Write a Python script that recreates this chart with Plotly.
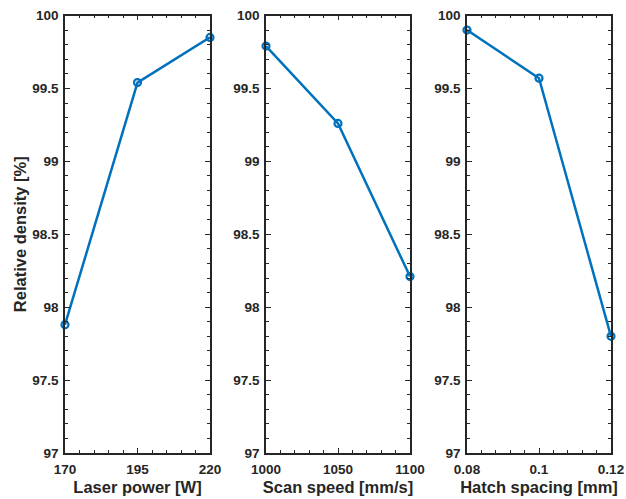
import plotly.graph_objects as go
from plotly.subplots import make_subplots

# Process parameters and measured relative density
laser_power = [170, 195, 220]
density_power = [97.88, 99.54, 99.85]

scan_speed = [1000, 1050, 1100]
density_speed = [99.79, 99.26, 98.21]

hatch_spacing = [0.08, 0.1, 0.12]
density_hatch = [99.90, 99.57, 97.80]

x_titles = ["Laser power [W]", "Scan speed [mm/s]", "Hatch spacing [mm]"]
x_ticks = [[170, 195, 220], [1000, 1050, 1100], [0.08, 0.1, 0.12]]
x_ticktext = [["170", "195", "220"], ["1000", "1050", "1100"], ["0.08", "0.1", "0.12"]]
x_minor = [5, 10, 0.004]
y_ticks = [97, 97.5, 98, 98.5, 99, 99.5, 100]
y_ticktext = ["97", "97.5", "98", "98.5", "99", "99.5", "100"]

W, H = 626, 499
LINE_COLOR = "#0072BD"
AX_COLOR = "#262626"
FONT = "Liberation Sans, Arial, sans-serif"

fig = make_subplots(rows=1, cols=3)

series = [(laser_power, density_power), (scan_speed, density_speed), (hatch_spacing, density_hatch)]
x_domains = [(65, 210), (266, 410), (467, 611)]
y_domain = [(H - 453) / H, (H - 15.5) / H]

for i, (xs, ys) in enumerate(series):
    fig.add_trace(
        go.Scatter(
            x=xs, y=ys, mode="lines+markers",
            line=dict(color=LINE_COLOR, width=2.5),
            marker=dict(symbol="circle-open", size=7, color=LINE_COLOR, line=dict(width=2.2)),
            showlegend=False, cliponaxis=False,
        ),
        row=1, col=i + 1,
    )
    xa = "xaxis" if i == 0 else f"xaxis{i + 1}"
    ya = "yaxis" if i == 0 else f"yaxis{i + 1}"
    d0, d1 = x_domains[i]
    fig.layout[xa].update(
        domain=[d0 / W, d1 / W], automargin=False,
        range=[x_ticks[i][0], x_ticks[i][-1]],
        tickvals=x_ticks[i], ticktext=x_ticktext[i],
        ticks="inside", ticklen=5, tickwidth=1.2, tickcolor=AX_COLOR,
        ticklabelstandoff=3,
        minor=dict(ticks="inside", dtick=x_minor[i], tick0=x_ticks[i][0], ticklen=3,
                   tickwidth=1.2, tickcolor=AX_COLOR, showgrid=False),
        showline=True, linecolor=AX_COLOR, linewidth=1.5, mirror="allticks",
        showgrid=False, zeroline=False,
        tickfont=dict(family=FONT, size=13.5, color=AX_COLOR, weight="bold"),
        title=dict(text=x_titles[i], standoff=5,
                   font=dict(family=FONT, size=16.5, color=AX_COLOR, weight="bold")),
    )
    fig.layout[ya].update(
        domain=y_domain, automargin=False,
        range=[97, 100],
        tickvals=y_ticks, ticktext=y_ticktext,
        ticks="inside", ticklen=5, tickwidth=1.2, tickcolor=AX_COLOR,
        ticklabelstandoff=2,
        minor=dict(ticks="inside", dtick=0.1, tick0=97, ticklen=3,
                   tickwidth=1.2, tickcolor=AX_COLOR, showgrid=False),
        showline=True, linecolor=AX_COLOR, linewidth=1.5, mirror="allticks",
        showgrid=False, zeroline=False,
        tickfont=dict(family=FONT, size=13.5, color=AX_COLOR, weight="bold"),
    )
    if i == 0:
        fig.layout[ya].update(
            title=dict(text="Relative density [%]", standoff=1,
                       font=dict(family=FONT, size=16.5, color=AX_COLOR, weight="bold"))
        )

fig.update_layout(
    width=W, height=H,
    margin=dict(l=0, r=0, t=0, b=0),
    paper_bgcolor="white", plot_bgcolor="white",
)

fig.write_html("out.html")
